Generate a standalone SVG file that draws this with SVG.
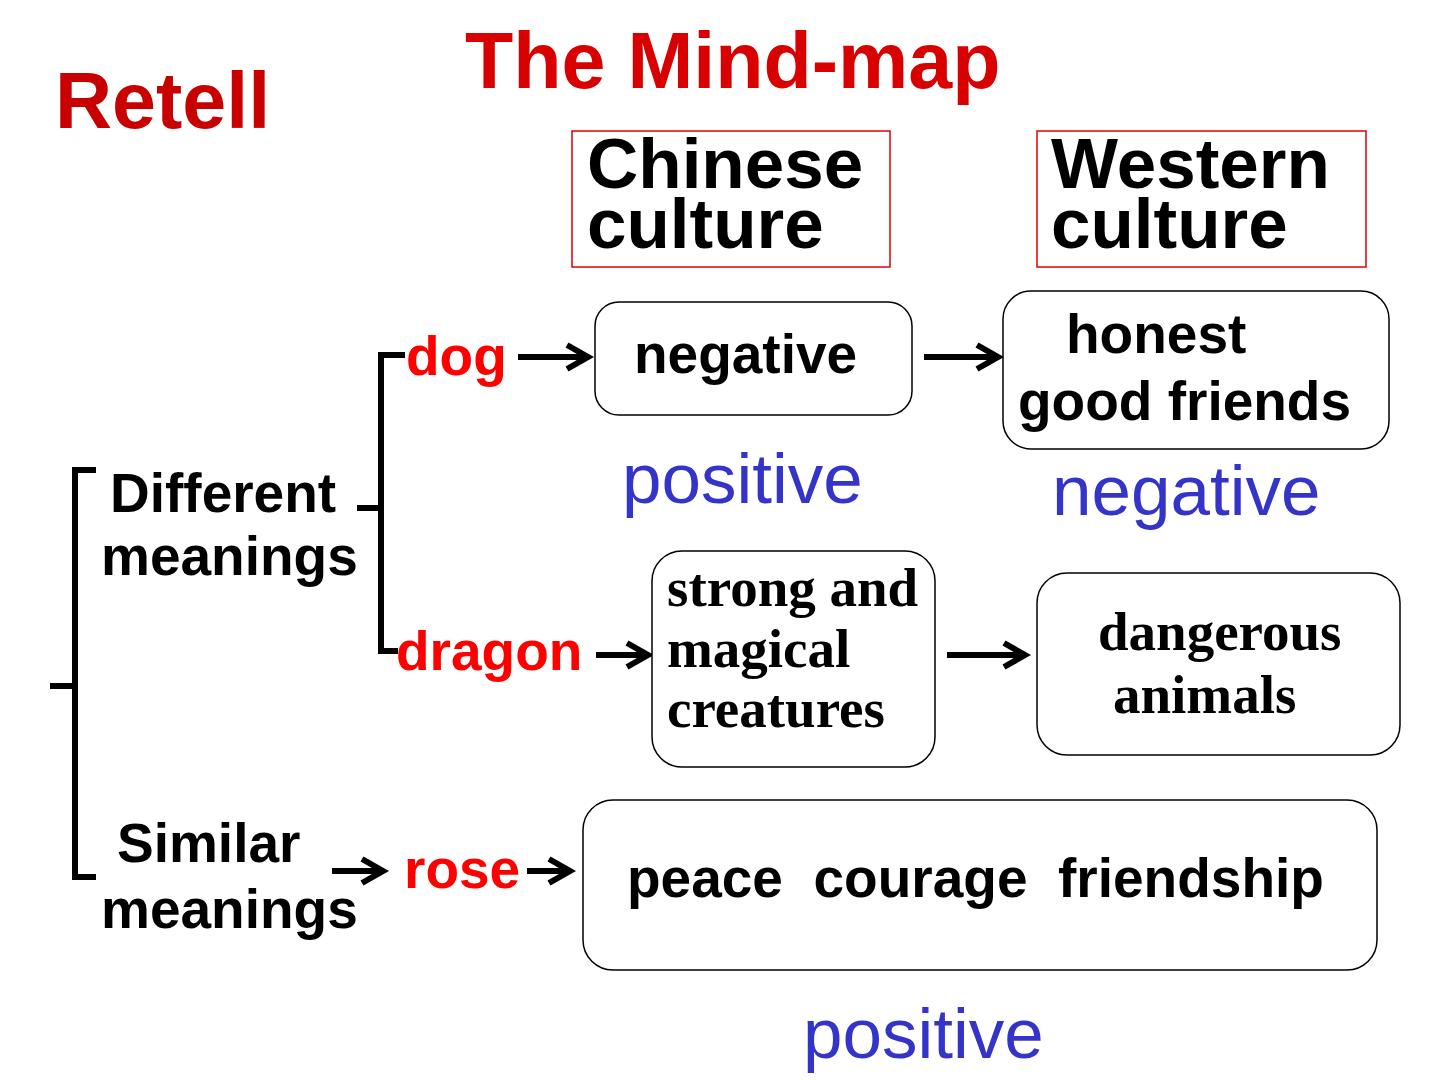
<svg xmlns="http://www.w3.org/2000/svg" width="1440" height="1080" viewBox="0 0 1440 1080">
<style>
.b{font-family:"Liberation Sans",Arial,sans-serif;font-weight:bold;}
.t{font-family:"Liberation Serif","Times New Roman",serif;font-weight:bold;}
.blue{font-family:"Liberation Sans",Arial,sans-serif;fill:#3434C8;font-size:71px;}
.red{fill:#FF0000;}
.box{fill:#fff;stroke:#000;stroke-width:1.5;}
.hdr{fill:#fff;stroke:#E00000;stroke-width:1.5;}
.ln{fill:none;stroke:#000;stroke-width:6;}
.ar{fill:none;stroke:#000;stroke-width:6;}
</style>
<rect width="1440" height="1080" fill="#fff"/>
<g id="title"><text class="b" x="465" y="88" font-size="79" fill="#D80000">The Mind-map</text></g>
<g id="retell"><text class="b" x="55" y="128" font-size="79" fill="#C80000">Retell</text></g>

<g id="chinese-culture">
<rect class="hdr" x="572" y="131" width="318" height="136"/>
<text class="b" x="587" y="188" font-size="71">Chinese</text>
<text class="b" x="587" y="248" font-size="71">culture</text>
</g>
<g id="western-culture">
<rect class="hdr" x="1037" y="131" width="329" height="136"/>
<text class="b" x="1051" y="188" font-size="71">Western</text>
<text class="b" x="1051" y="248" font-size="71">culture</text>
</g>

<g id="connectors">
<!-- outer brace -->
<path class="ln" d="M96,470 H75 V877 H96 M50,686 H75"/>
<!-- inner bracket -->
<path class="ln" d="M405,355 H381 V651 H398 M357,508 H381"/>
<!-- arrows -->
<path class="ar" d="M518,357 H583 M567,345 L588,357 L567,369"/>
<path class="ar" d="M924,357 H993 M977,345 L998,357 L977,369"/>
<path class="ar" d="M596,655 H642 M627,643 L648,655 L627,667"/>
<path class="ar" d="M947,655 H1020 M1004,643 L1025,655 L1004,667"/>
<path class="ar" d="M332,871 H378 M362,859 L383,871 L362,883"/>
<path class="ar" d="M527,871 H564 M549,859 L570,871 L549,883"/>
</g>

<g id="different-meanings">
<text class="b" x="110" y="512" font-size="55">Different</text>
<text class="b" x="101" y="575" font-size="55">meanings</text>
</g>
<g id="similar-meanings">
<text class="b" x="117" y="862" font-size="55">Similar</text>
<text class="b" x="101" y="928" font-size="55">meanings</text>
</g>

<g id="dog"><text class="b red" x="406" y="375" font-size="55">dog</text></g>
<g id="dragon"><text class="b red" x="396" y="670" font-size="55">dragon</text></g>
<g id="rose"><text class="b red" x="404" y="888" font-size="55">rose</text></g>

<g id="dog-chinese">
<rect class="box" x="595" y="302" width="317" height="113" rx="24"/>
<text class="b" x="634" y="373" font-size="55">negative</text>
</g>
<g id="dog-western">
<rect class="box" x="1003" y="291" width="386" height="158" rx="28"/>
<text class="b" x="1066" y="353" font-size="55">honest</text>
<text class="b" x="1018" y="420" font-size="55">good friends</text>
</g>
<g id="positive-1"><text class="blue" x="622" y="503">positive</text></g>
<g id="negative-1"><text class="blue" x="1052" y="515">negative</text></g>

<g id="dragon-chinese">
<rect class="box" x="652" y="551" width="283" height="216" rx="30"/>
<text class="t" x="667" y="606" font-size="55">strong and</text>
<text class="t" x="667" y="667" font-size="55">magical</text>
<text class="t" x="667" y="727" font-size="55">creatures</text>
</g>
<g id="dragon-western">
<rect class="box" x="1037" y="573" width="363" height="182" rx="30"/>
<text class="t" x="1098" y="650" font-size="55">dangerous</text>
<text class="t" x="1113" y="713" font-size="55">animals</text>
</g>

<g id="rose-meaning">
<rect class="box" x="583" y="800" width="794" height="170" rx="30"/>
<text class="b" x="627" y="897" font-size="55" xml:space="preserve">peace  courage  friendship</text>
</g>
<g id="positive-2"><text class="blue" x="803" y="1058">positive</text></g>
</svg>
